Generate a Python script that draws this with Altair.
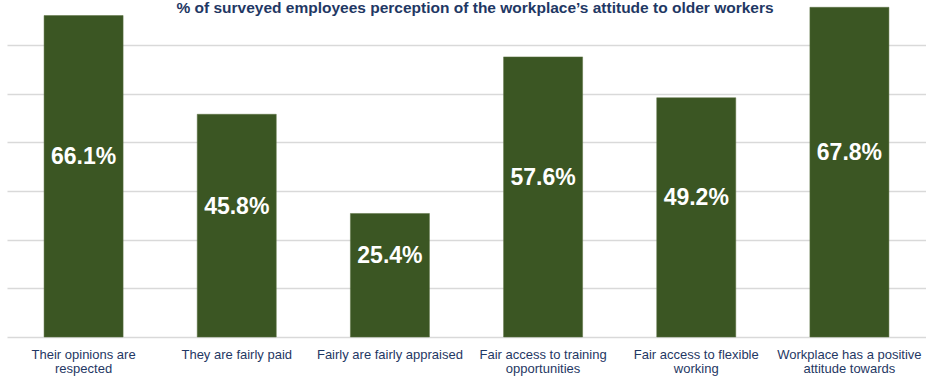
import altair as alt
import pandas as pd

# Survey results: share of employees agreeing with each statement (%)
categories = [
    "Their opinions are\nrespected",
    "They are fairly paid",
    "Fairly are fairly appraised",
    "Fair access to training\nopportunities",
    "Fair access to flexible\nworking",
    "Workplace has a positive\nattitude towards",
]
values = [66.1, 45.8, 25.4, 57.6, 49.2, 67.8]
title_text = "% of surveyed employees perception of the workplace\u2019s attitude to older workers"

df = pd.DataFrame({"category": categories, "value": values})
df["label"] = df["value"].map(lambda v: f"{v:.1f}%")

BAR = "#3B5623"
NAVY = "#1F3864"
FONT = "Liberation Sans"

x = alt.X(
    "category:N",
    sort=categories,
    scale=alt.Scale(paddingInner=0.484, paddingOuter=0.242),
    axis=alt.Axis(
        title=None,
        labelAngle=0,
        domain=False,
        ticks=False,
        labelColor=NAVY,
        labelFont=FONT,
        labelFontSize=13,
        labelLineHeight=14,
        labelPadding=11,
        labelExpr="split(datum.label, '\\n')",
    ),
)
y_scale = alt.Scale(domain=[0, 69.3], nice=False, zero=True)

base = alt.Chart(df)

bars = base.mark_bar(color=BAR, stroke="#5a7040", strokeWidth=0.5).encode(
    x=x,
    y=alt.Y(
        "value:Q",
        scale=y_scale,
        axis=alt.Axis(
            title=None,
            labels=False,
            ticks=False,
            domain=False,
            values=[0, 10, 20, 30, 40, 50, 60],
            grid=True,
            gridColor="#d9d9d9",
            gridWidth=1.5,
        ),
    ),
)

labels = base.transform_calculate(mid="datum.value / 2").mark_text(
    color="white",
    font=FONT,
    fontSize=23,
    fontWeight="bold",
    dy=-19,
).encode(
    x=alt.X("category:N", sort=categories),
    y=alt.Y("mid:Q", scale=y_scale),
    text="label:N",
)

title = alt.Chart(pd.DataFrame({"t": [title_text]})).mark_text(
    color=NAVY,
    font=FONT,
    fontSize=15.5,
    fontWeight="bold",
    align="center",
    baseline="middle",
).encode(
    text="t:N",
    x=alt.value(468),
    y=alt.value(8),
)

chart = (
    alt.layer(bars, labels, title)
    .properties(
        width=919,
        height=337,
        autosize="none",
        padding={"left": 7, "top": 0, "right": 0, "bottom": 39},
        background="white",
    )
    .configure_view(stroke=None)
)

chart.save("out.html", embed_options={"renderer": "svg", "actions": False})
